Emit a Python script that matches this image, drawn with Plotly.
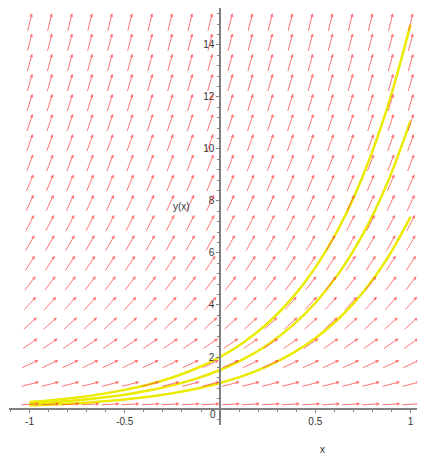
import plotly.graph_objects as go

# ---- data ----
# direction-field grid (arrow centres)
field_x = [-1.0, -0.895, -0.789, -0.684, -0.579, -0.474, -0.368, -0.263, -0.158, -0.053,
           0.053, 0.158, 0.263, 0.368, 0.474, 0.579, 0.684, 0.789, 0.895, 1.0]
field_y = [0.18, 0.95, 1.72, 2.50, 3.27, 4.04, 4.81, 5.58, 6.36, 7.13,
           7.90, 8.67, 9.44, 10.22, 10.99, 11.76, 12.53, 13.30, 14.08, 14.85]
# slope dy/dx of the arrows in each row
row_slopes = [0.36, 1.90, 3.44, 5.00, 6.54, 8.08, 9.62, 11.16, 12.72, 14.26,
              15.80, 17.34, 18.88, 20.44, 21.98, 23.52, 25.06, 26.60, 28.16, 29.70]

# solution curves
curve_x = [-1, -0.875, -0.75, -0.625, -0.5, -0.375, -0.25, -0.125, 0,
           0.125, 0.25, 0.375, 0.5, 0.625, 0.75, 0.875, 1]
curve_a = [0.135, 0.174, 0.223, 0.287, 0.368, 0.472, 0.607, 0.779, 1.0,
           1.284, 1.649, 2.117, 2.718, 3.490, 4.482, 5.755, 7.389]
curve_b = [0.203, 0.261, 0.335, 0.430, 0.552, 0.709, 0.910, 1.168, 1.5,
           1.926, 2.473, 3.176, 4.077, 5.235, 6.723, 8.632, 11.08]
curve_c = [0.271, 0.348, 0.446, 0.573, 0.736, 0.945, 1.213, 1.558, 2.0,
           2.568, 3.297, 4.234, 5.437, 6.980, 8.963, 11.51, 14.78]

x_ticks = [-1, -0.5, 0.5, 1]
x_tick_text = ["-1", "-0.5", "0.5", "1"]
y_ticks = [2, 4, 6, 8, 10, 12, 14]
y_tick_text = ["2", "4", "6", "8", "10", "12", "14"]

# ---- layout geometry (page body has an 8px margin) ----
W, H = 417, 449
ML, MR, MT, MB = 1, 0, 0, 32
XR = [-1.108, 1.076]
YR = [-0.615, 15.42]
px_x = (W - ML - MR) / (XR[1] - XR[0])
px_y = (H - MT - MB) / (YR[1] - YR[0])
ARROW_LEN = 19.5

fig = go.Figure()
for ys in (curve_a, curve_b, curve_c):
    fig.add_trace(go.Scatter(x=curve_x, y=ys, mode="lines",
                             line=dict(color="rgb(235,235,0)", width=2.5, shape="spline"),
                             showlegend=False, hoverinfo="skip"))

annotations = []
arrow_color = "rgba(255,70,70,0.75)"
for yv, s in zip(field_y, row_slopes):
    dxp = 1.0
    dyp = s * px_y / px_x
    n = (dxp ** 2 + dyp ** 2) ** 0.5
    ux, uy = dxp / n, dyp / n
    for xv in field_x:
        hx = xv + 0.5 * ARROW_LEN * ux / px_x
        hy = yv + 0.5 * ARROW_LEN * uy / px_y
        annotations.append(dict(
            x=hx, y=hy, xref="x", yref="y",
            ax=-ARROW_LEN * ux, ay=ARROW_LEN * uy,
            axref="pixel", ayref="pixel",
            text="", showarrow=True, arrowhead=2, arrowsize=0.7,
            arrowwidth=1, arrowcolor=arrow_color, standoff=0, startstandoff=0))

font = dict(family="Liberation Sans, Arial, sans-serif", size=10, color="#333")
annotations.append(dict(x=-0.205, y=7.77, xref="x", yref="y", text="y(x)",
                        xanchor="center", yanchor="middle", showarrow=False, font=font))
annotations.append(dict(x=0.54, y=-(441 - (H - MB)) / (H - MT - MB),
                        xref="x", yref="paper", text="x",
                        xanchor="center", yanchor="middle", showarrow=False, font=font))
annotations.append(dict(x=-0.037, y=-0.2, xref="x", yref="y", text="0",
                        xanchor="center", yanchor="middle", showarrow=False, font=font))

fig.update_layout(
    width=W, height=H,
    margin=dict(l=ML, r=MR, t=MT, b=MB, pad=0, autoexpand=False),
    paper_bgcolor="white", plot_bgcolor="white",
    showlegend=False,
    annotations=annotations,
    xaxis=dict(range=XR, anchor="free", position=(0 - YR[0]) / (YR[1] - YR[0]),
               automargin=False,
               showline=True, linecolor="#808080", linewidth=1.5,
               showgrid=False, zeroline=False,
               tickmode="array", tickvals=x_ticks, ticktext=x_tick_text,
               ticks="outside", ticklen=3, tickcolor="#808080", tickfont=font,
               minor=dict(dtick=0.1, tick0=0, ticks="outside", ticklen=2, tickcolor="#808080")),
    yaxis=dict(range=YR, anchor="free", position=(0 - XR[0]) / (XR[1] - XR[0]),
               automargin=False,
               showline=True, linecolor="#808080", linewidth=1.5,
               showgrid=False, zeroline=False,
               tickmode="array", tickvals=y_ticks, ticktext=y_tick_text,
               ticks="outside", ticklen=3, tickcolor="#808080", tickfont=font,
               minor=dict(dtick=0.4, tick0=0, ticks="outside", ticklen=2, tickcolor="#808080")),
)

fig.write_html("out.html")
